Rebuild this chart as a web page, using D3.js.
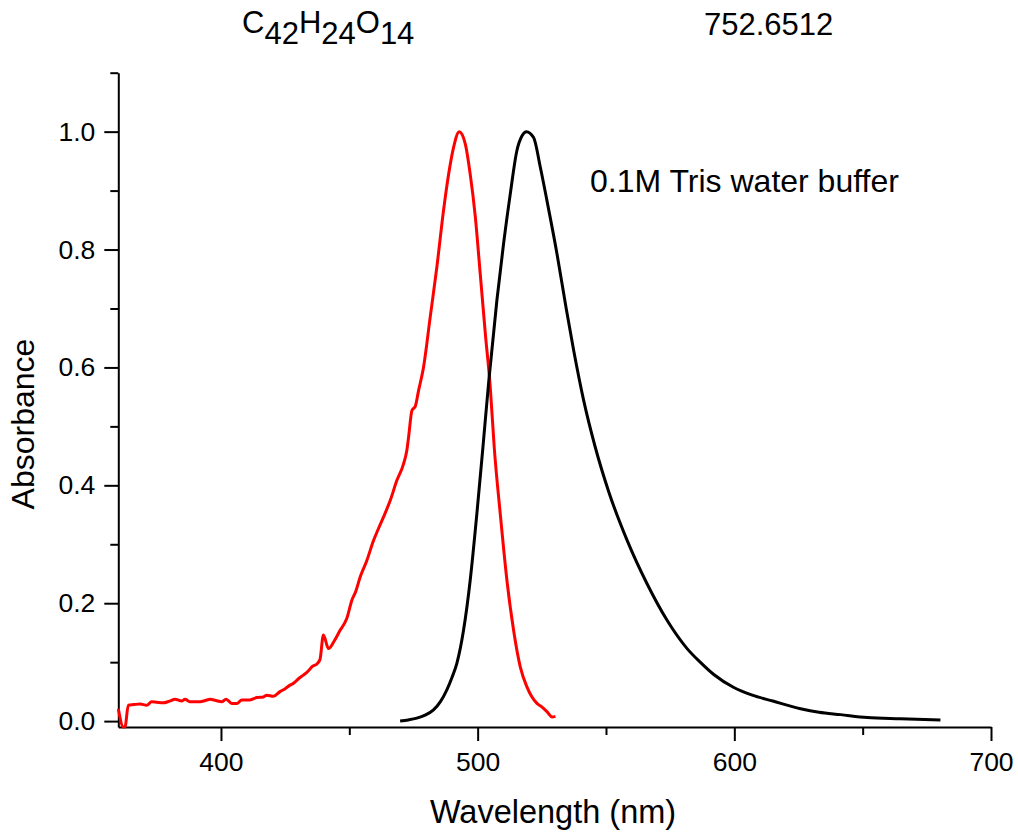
<!DOCTYPE html>
<html>
<head>
<meta charset="utf-8">
<script src="https://cdn.jsdelivr.net/npm/d3@7"></script>
<style>
  body { margin: 0; background: #fff; }
  svg text { font-family: "Liberation Sans", Arial, sans-serif; fill: #000; }
</style>
</head>
<body>
<svg id="chart"></svg>
<script>
// absorption (red)
const absNm = [360.0, 362.0, 362.6, 363.9, 366, 368.5, 371.1, 373.0, 375, 377.5, 380, 382.1, 384.7, 386.0, 387.9,
  391.9, 393.9, 395.8, 398, 400.3, 402.0, 404.2, 406.2, 408.1, 411.3, 414.0, 416.5, 417.9, 420.4, 423.0, 425,
  426.9, 428.2, 430.8, 432.1, 434, 435.4, 437.6, 438.6, 439.9, 441.9, 444, 446.4, 449.0, 451.0, 452.5, 454.2,
  456.8, 459.4, 461.2, 463.3, 466, 468.5, 471.1, 472.4, 473.1, 474.4, 475.7, 477.0, 478.9, 481.5, 484.1, 486.7,
  488.7, 490.6, 492.8, 495.2, 497.1, 499.1, 501.0, 503.0, 504.9, 506.5, 508.8, 511.4, 514.0, 516.6, 519.2, 521,
  523.1, 525, 527.0, 529.0, 530.3];
const absVal = [0.021, -0.01, -0.01, 0.027, 0.028, 0.029, 0.027, 0.033, 0.032, 0.031, 0.034, 0.037, 0.034, 0.037, 0.033,
  0.033, 0.035, 0.037, 0.035, 0.033, 0.037, 0.030, 0.030, 0.036, 0.036, 0.040, 0.041, 0.044, 0.042, 0.050, 0.055,
  0.061, 0.064, 0.074, 0.078, 0.085, 0.092, 0.098, 0.105, 0.146, 0.123, 0.135, 0.154, 0.174, 0.205, 0.220, 0.244,
  0.272, 0.306, 0.325, 0.346, 0.375, 0.408, 0.436, 0.459, 0.482, 0.527, 0.534, 0.561, 0.600, 0.685, 0.770, 0.866,
  0.928, 0.973, 1.000, 0.979, 0.928, 0.855, 0.759, 0.657, 0.567, 0.462, 0.352, 0.239, 0.154, 0.092, 0.058, 0.042,
  0.030, 0.024, 0.016, 0.007, 0.008];

// emission (black)
const emNm = [469.8, 473, 476.3, 479.5, 482.8, 485.5, 488.0, 490, 491.9, 494.5, 497.1, 499.7, 502.0, 504.3, 507.5,
  510.1, 512.7, 515.3, 517.3, 519.0, 521.8, 524.4, 527.0, 530.9, 534.5, 537.4, 541.3, 545.8, 551.0, 558.2, 566.0,
  573.8, 581.6, 586.7, 592.0, 599.8, 607, 615.0, 625.8, 633, 641.4, 651.8, 664.7, 680.3];
const emVal = [0.000, 0.002, 0.005, 0.010, 0.019, 0.033, 0.053, 0.074, 0.098, 0.154, 0.239, 0.352, 0.462, 0.575, 0.714,
  0.810, 0.894, 0.968, 0.993, 1.000, 0.990, 0.940, 0.883, 0.793, 0.700, 0.629, 0.544, 0.465, 0.390, 0.307, 0.233,
  0.171, 0.123, 0.100, 0.079, 0.057, 0.044, 0.034, 0.021, 0.015, 0.011, 0.006, 0.004, 0.002];

const xMajor = [400, 500, 600, 700];
const xMinor = [450, 550, 650];
const yMajor = [0.0, 0.2, 0.4, 0.6, 0.8, 1.0];
const yMinor = [0.1, 0.3, 0.5, 0.7, 0.9, 1.1];

const W = 1018, H = 836;
const svg = d3.select("#chart").attr("width", W).attr("height", H);

const x = d3.scaleLinear().domain([360, 700]).range([118.3, 991]);
const y = d3.scaleLinear().domain([-0.01, 1.1]).range([727, 72.7]);

// minor ticks first, then major axes on top
svg.append("g")
  .attr("transform", `translate(0,${y(-0.01)})`)
  .call(d3.axisBottom(x).tickValues(xMinor).tickSize(8).tickSizeOuter(0).tickFormat(""))
  .call(g => g.select(".domain").remove())
  .selectAll("line").attr("stroke-width", 2);

svg.append("g")
  .attr("transform", `translate(${x(360)},0)`)
  .call(d3.axisLeft(y).tickValues(yMinor).tickSize(8).tickSizeOuter(0).tickFormat(""))
  .call(g => g.select(".domain").remove())
  .selectAll("line").attr("stroke-width", 2);

const xAxis = svg.append("g")
  .attr("transform", `translate(0,${y(-0.01)})`)
  .call(d3.axisBottom(x).tickValues(xMajor).tickSize(14).tickSizeOuter(0).tickPadding(11).tickFormat(d3.format("d")));
xAxis.select(".domain").attr("stroke-width", 2);
xAxis.selectAll("line").attr("stroke-width", 2);
xAxis.selectAll("text").attr("font-size", 26.5).attr("font-family", "Liberation Sans, Arial, sans-serif");

const yAxis = svg.append("g")
  .attr("transform", `translate(${x(360)},0)`)
  .call(d3.axisLeft(y).tickValues(yMajor).tickSize(14).tickSizeOuter(0).tickPadding(9).tickFormat(d3.format(".1f")));
yAxis.select(".domain").attr("stroke-width", 2);
yAxis.selectAll("line").attr("stroke-width", 2);
yAxis.selectAll("text").attr("font-size", 26.5).attr("font-family", "Liberation Sans, Arial, sans-serif");

// curves
const line = d3.line().x(d => x(d[0])).y(d => y(d[1])).curve(d3.curveMonotoneX);

svg.append("path")
  .datum(absNm.map((v, i) => [v, absVal[i]]))
  .attr("d", line)
  .attr("fill", "none")
  .attr("stroke", "#ff0000")
  .attr("stroke-width", 3)
  .attr("stroke-linejoin", "round");

svg.append("path")
  .datum(emNm.map((v, i) => [v, emVal[i]]))
  .attr("d", line)
  .attr("fill", "none")
  .attr("stroke", "#000")
  .attr("stroke-width", 3)
  .attr("stroke-linejoin", "round");

// labels
svg.append("text")
  .attr("x", 553)
  .attr("y", 823)
  .attr("text-anchor", "middle")
  .attr("font-size", 32.5)
  .text("Wavelength (nm)");

svg.append("text")
  .attr("transform", "translate(34,424) rotate(-90)")
  .attr("text-anchor", "middle")
  .attr("font-size", 32)
  .text("Absorbance");

svg.append("text")
  .attr("x", 590)
  .attr("y", 192)
  .attr("font-size", 32)
  .text("0.1M Tris water buffer");

// formula title with subscripts
const formula = svg.append("text")
  .attr("x", 242)
  .attr("y", 33)
  .attr("font-size", 31);
[["C", 0], ["42", 1], ["H", 0], ["24", 1], ["O", 0], ["14", 1]].forEach(([t, sub], i, arr) => {
  const prevSub = i > 0 ? arr[i - 1][1] : 0;
  formula.append("tspan")
    .attr("dy", sub === prevSub ? 0 : (sub ? 11 : -11))
    .text(t);
});

svg.append("text")
  .attr("x", 704)
  .attr("y", 35)
  .attr("font-size", 31)
  .text("752.6512");
</script>
</body>
</html>
